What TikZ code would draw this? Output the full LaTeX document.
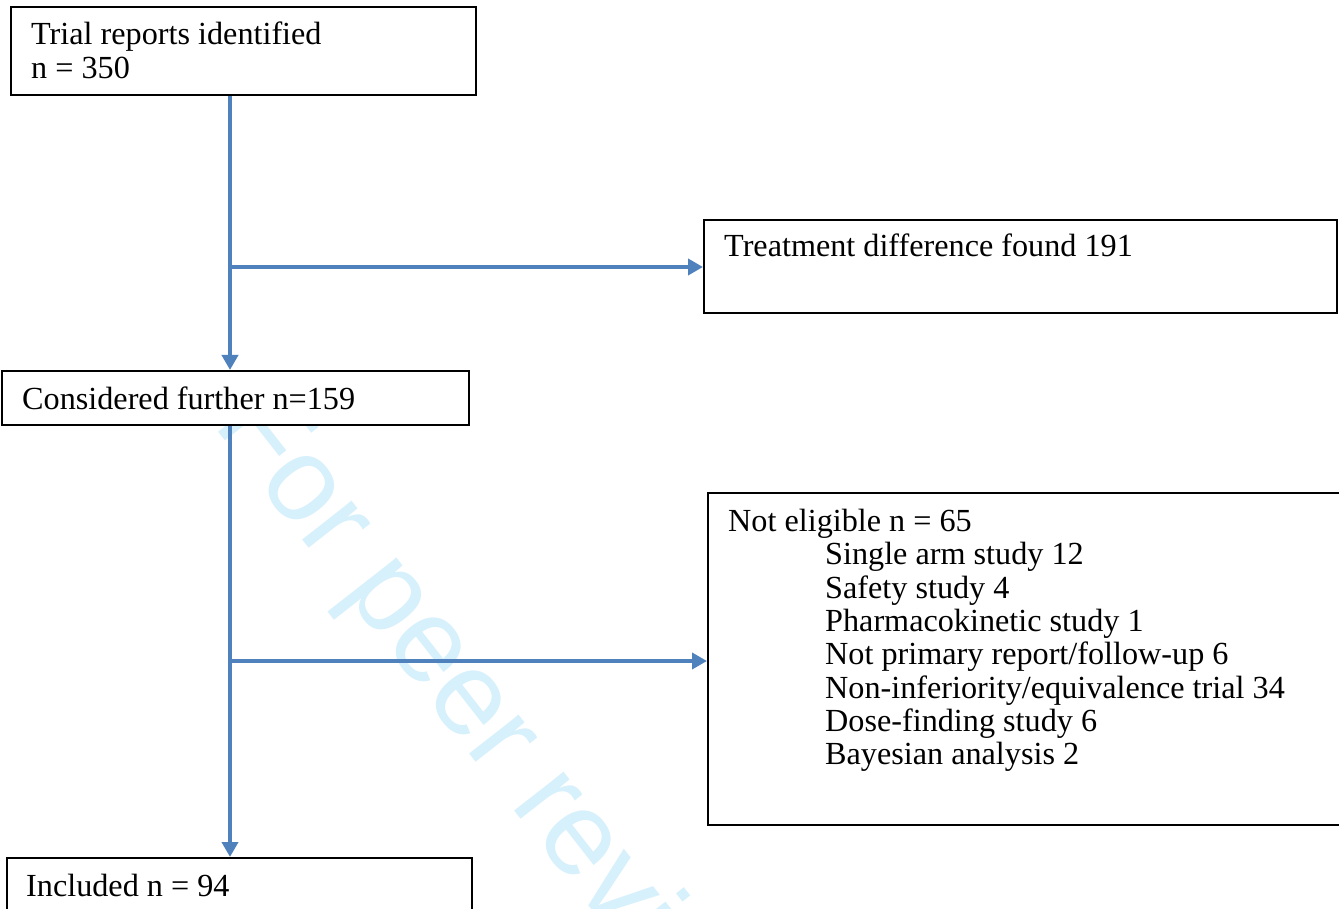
\documentclass[tikz,border=0pt]{standalone}
\usepackage{fontspec}
\setmainfont{Liberation Serif}
\newfontfamily\wmfont{Liberation Sans}
\usetikzlibrary{arrows.meta}
\definecolor{flowblue}{RGB}{79,129,189}
\definecolor{wmblue}{RGB}{214,240,252}
\begin{document}
\begin{tikzpicture}[x=1pt,y=-1pt,
  box/.style={draw=black,line width=1.8pt,fill=white,inner sep=0pt,anchor=north west},
  flow/.style={draw=flowblue,line width=4.5pt},
  arr/.style={flow,-{Triangle[length=15pt,width=16pt]}},
  txt/.style={font=\fontsize{32.2}{33.3}\selectfont,anchor=base west,inner sep=0pt},
  wm/.style={text=wmblue,font=\wmfont\fontsize{119}{119}\selectfont,anchor=base west,inner sep=0pt,rotate=-52}]
\useasboundingbox (0,0) rectangle (1339,909);
\clip (0,0) rectangle (1339,909);
\fill[white] (0,0) rectangle (1339,909);
% watermark
\node[wm] (wmark) at (212,424) {For peer review only};
% boxes
\node[box,minimum width=465pt,minimum height=88pt] (b1) at (10,6) {};
\node[box,minimum width=633pt,minimum height=93pt] (b3) at (703,219) {};
\node[box,minimum width=467pt,minimum height=54pt] (b2) at (1,370) {};
\node[box,minimum width=645pt,minimum height=332pt] (b4) at (707,492) {};
\node[box,minimum width=465pt,minimum height=70pt] (b5) at (6,857) {};
% texts
\node[txt] (t1a) at (31,45) {Trial reports identified};
\node[txt] (t1b) at (31,79) {n = 350};
\node[txt] (t3) at (724,257) {Treatment difference found 191};
\node[txt] (t2) at (22,409) {Considered further n=159};
\node[txt] (t4) at (728,531) {Not eligible n = 65};
\node[txt] (t4a) at (825,564) {Single arm study 12};
\node[txt] (t4b) at (825,598) {Safety study 4};
\node[txt] (t4c) at (825,631) {Pharmacokinetic study 1};
\node[txt] (t4d) at (825,664) {Not primary report/follow-up 6};
\node[txt] (t4e) at (825,698) {Non-inferiority/equivalence trial 34};
\node[txt] (t4f) at (825,731) {Dose-finding study 6};
\node[txt] (t4g) at (825,764) {Bayesian analysis 2};
\node[txt] (t5) at (26,896) {Included n = 94};
% connectors
\coordinate (j1) at (230,267);
\coordinate (j2) at (230,661);
\draw[arr] (b1.south -| j1) -- (b2.north -| j1);
\draw[arr] (j1) -- (b3.west |- j1);
\draw[arr] (b2.south -| j2) -- (b5.north -| j2);
\draw[arr] (j2) -- (b4.west |- j2);
\end{tikzpicture}
\end{document}
